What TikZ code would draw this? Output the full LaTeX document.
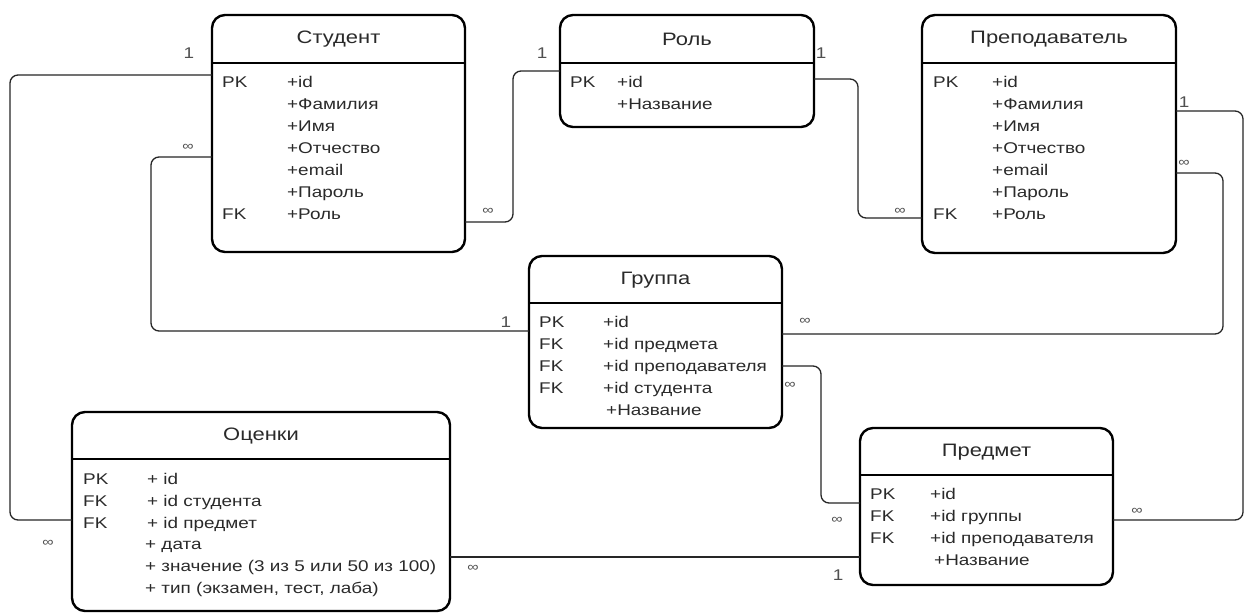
\documentclass[tikz,border=0pt]{standalone}
\usepackage{fontspec}
\setmainfont{Liberation Sans}[FakeStretch=1.22]
\usetikzlibrary{calc}
\definecolor{txt}{HTML}{2A2A2A}
\definecolor{lbl}{HTML}{505050}
\begin{document}
\begin{tikzpicture}[x=1pt,y=-1pt,
 entity/.style={draw=black, line width=2.4pt, rounded corners=13pt, inner sep=0pt, outer sep=0pt, anchor=north west, minimum width=253pt},
 sepline/.style={line width=2.4pt, draw=black},
 ttl/.style={font=\fontsize{18}{20}\selectfont, text=txt, inner sep=0pt},
 fld/.style={font=\fontsize{15.5}{17}\selectfont, text=txt, inner sep=0pt, anchor=mid west},
 conn/.style={line width=1.3pt, draw=black!85, rounded corners=8pt},
 card/.style={font=\fontsize{15.5}{17}\selectfont, text=lbl, inner sep=0pt},
 many/.style={font=\fontsize{13}{14}\selectfont, text=lbl, inner sep=0pt}]
\useasboundingbox[fill=white] (0,0) rectangle (1246,613);

% ---------- Студент ----------
\node[entity, minimum height=237pt] (stud) at (212,15) {};
\draw[sepline] ($(stud.north west)+(0,48)$) -- ($(stud.north east)+(0,48)$);
\node[ttl] (studT) at ($(stud.north)+(0,24)$) {Студент};
\node[fld] (studK1) at (222,85) {PK};
\node[fld] (studF1) at (287,85) {+id};
\node[fld] (studF2) at (287,107) {+Фамилия};
\node[fld] (studF3) at (287,129) {+Имя};
\node[fld] (studF4) at (287,151) {+Отчество};
\node[fld] (studF5) at (287,173) {+email};
\node[fld] (studF6) at (287,195) {+Пароль};
\node[fld] (studK7) at (222,217) {FK};
\node[fld] (studF7) at (287,217) {+Роль};

% ---------- Роль ----------
\node[entity, minimum height=112pt, minimum width=254pt] (role) at (560,15) {};
\draw[sepline] ($(role.north west)+(0,48)$) -- ($(role.north east)+(0,48)$);
\node[ttl] (roleT) at ($(role.north)+(0,24)$) {Роль};
\node[fld] (roleK1) at (570,85) {PK};
\node[fld] (roleF1) at (617,85) {+id};
\node[fld] (roleF2) at (617,107) {+Название};

% ---------- Преподаватель ----------
\node[entity, minimum height=238pt, minimum width=254pt] (teach) at (922,15) {};
\draw[sepline] ($(teach.north west)+(0,48)$) -- ($(teach.north east)+(0,48)$);
\node[ttl] (teachT) at ($(teach.north)+(0,24)$) {Преподаватель};
\node[fld] (teachK1) at (933,85) {PK};
\node[fld] (teachF1) at (992,85) {+id};
\node[fld] (teachF2) at (992,107) {+Фамилия};
\node[fld] (teachF3) at (992,129) {+Имя};
\node[fld] (teachF4) at (992,151) {+Отчество};
\node[fld] (teachF5) at (992,173) {+email};
\node[fld] (teachF6) at (992,195) {+Пароль};
\node[fld] (teachK7) at (933,217) {FK};
\node[fld] (teachF7) at (992,217) {+Роль};

% ---------- Группа ----------
\node[entity, minimum height=172pt] (grp) at (529,256) {};
\draw[sepline] ($(grp.north west)+(0,47)$) -- ($(grp.north east)+(0,47)$);
\node[ttl] (grpT) at ($(grp.north)+(0,24)$) {Группа};
\node[fld] (grpK1) at (539,325) {PK};
\node[fld] (grpF1) at (603,325) {+id};
\node[fld] (grpK2) at (539,347) {FK};
\node[fld] (grpF2) at (603,347) {+id предмета};
\node[fld] (grpK3) at (539,369) {FK};
\node[fld] (grpF3) at (603,369) {+id преподавателя};
\node[fld] (grpK4) at (539,391) {FK};
\node[fld] (grpF4) at (603,391) {+id студента};
\node[fld] (grpF5) at (606,413) {+Название};

% ---------- Оценки ----------
\node[entity, minimum height=199pt, minimum width=378pt] (ocen) at (72,412) {};
\draw[sepline] ($(ocen.north west)+(0,47)$) -- ($(ocen.north east)+(0,47)$);
\node[ttl] (ocenT) at ($(ocen.north)+(0,24)$) {Оценки};
\node[fld] (ocenK1) at (83,482) {PK};
\node[fld] (ocenF1) at (147,482) {+ id};
\node[fld] (ocenK2) at (83,504) {FK};
\node[fld] (ocenF2) at (147,504) {+ id студента};
\node[fld] (ocenK3) at (83,526) {FK};
\node[fld] (ocenF3) at (147,526) {+ id предмет};
\node[fld] (ocenF4) at (145,547) {+ дата};
\node[fld] (ocenF5) at (145,569) {+ значение (3 из 5 или 50 из 100)};
\node[fld] (ocenF6) at (145,591) {+ тип (экзамен, тест, лаба)};

% ---------- Предмет ----------
\node[entity, minimum height=157pt] (pred) at (860,428) {};
\draw[sepline] ($(pred.north west)+(0,47)$) -- ($(pred.north east)+(0,47)$);
\node[ttl] (predT) at ($(pred.north)+(0,24)$) {Предмет};
\node[fld] (predK1) at (870,497) {PK};
\node[fld] (predF1) at (930,497) {+id};
\node[fld] (predK2) at (870,519) {FK};
\node[fld] (predF2) at (930,519) {+id группы};
\node[fld] (predK3) at (870,541) {FK};
\node[fld] (predF3) at (930,541) {+id преподавателя};
\node[fld] (predF4) at (934,563) {+Название};

% ---------- connectors ----------
% Студент -> Оценки
\draw[conn] ($(stud.north west)+(0,60)$) -- (10,75) -- (10,520) -- ($(ocen.north west)+(0,108)$);
\node[card] (c1a) at (189,53) {1};
\node[many] (c1b) at (48,543) {∞};
% Студент -> Группа
\draw[conn] ($(stud.north west)+(0,142)$) -- (151,157) -- (151,331) -- ($(grp.north west)+(0,75)$);
\node[many] (c2a) at (188,147) {∞};
\node[card] (c2b) at (506,322) {1};
% Студент -> Роль
\draw[conn] ($(stud.north east)+(0,207)$) -- (513,222) -- (513,71) -- ($(role.north west)+(0,56)$);
\node[many] (c3a) at (488,211) {∞};
\node[card] (c3b) at (542,53) {1};
% Роль -> Преподаватель
\draw[conn] ($(role.north east)+(0,64)$) -- (858,79) -- (858,218) -- ($(teach.north west)+(0,203)$);
\node[card] (c4a) at (821,53) {1};
\node[many] (c4b) at (900,211) {∞};
% Преподаватель -> Предмет
\draw[conn] ($(teach.north east)+(0,96)$) -- (1243,111) -- (1243,520) -- ($(pred.north east)+(0,92)$);
\node[card] (c5a) at (1184,102) {1};
\node[many] (c5b) at (1137,511) {∞};
% Преподаватель -> Группа
\draw[conn] ($(teach.north east)+(0,158)$) -- (1223,173) -- (1223,334) -- ($(grp.north east)+(0,78)$);
\node[many] (c6a) at (1184,163) {∞};
\node[many] (c6b) at (805,321) {∞};
% Группа -> Предмет
\draw[conn] ($(grp.north east)+(0,110)$) -- (821,366) -- (821,503) -- ($(pred.north west)+(0,75)$);
\node[many] (c7a) at (790,385) {∞};
\node[many] (c7b) at (837,520) {∞};
% Оценки -> Предмет
\draw[conn] ($(ocen.north east)+(0,145)$) -- ($(pred.north west)+(0,129)$);
\node[many] (c8a) at (473,568) {∞};
\node[card] (c8b) at (838,575) {1};
\end{tikzpicture}
\end{document}
